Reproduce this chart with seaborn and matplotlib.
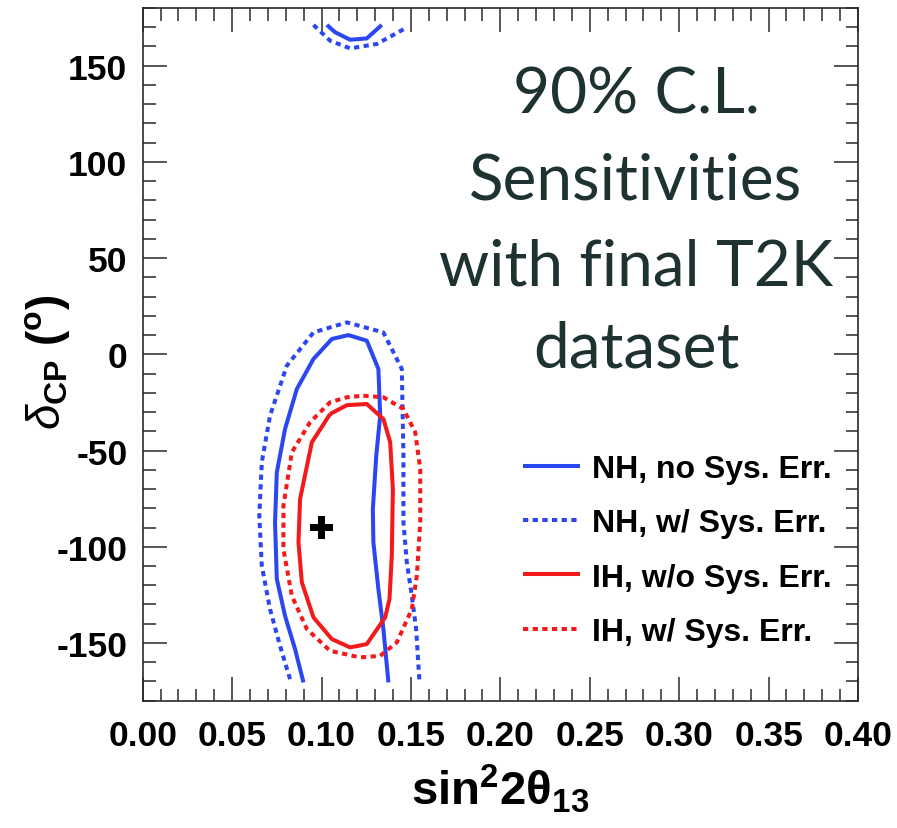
import matplotlib
matplotlib.use("Agg")
import matplotlib.pyplot as plt
import seaborn as sns
import pandas as pd
import numpy as np
from matplotlib.lines import Line2D

# ---------------- data ----------------
# NH, no Sys. Err. (main open contour, bottom-left -> top -> bottom-right)
nh_a_x = [0.0899, 0.0852, 0.0796, 0.0750, 0.0740, 0.0750, 0.0796, 0.0862, 0.0955, 0.1058,
          0.1151, 0.1253, 0.1318, 0.1328, 0.1306, 0.1287, 0.1290, 0.1318, 0.1346, 0.1374]
nh_a_y = [-170.5, -153.2, -135.9, -116.8, -87.3, -61.3, -38.8, -18.0, -2.4, 8.0,
          10.0, 7.1, -7.6, -31.9, -52.7, -80.4, -97.7, -122.0, -142.8, -170.5]
# NH, no Sys. Err. (piece near the top edge)
nh_a_top_x = [0.1030, 0.1076, 0.1160, 0.1253, 0.1337]
nh_a_top_y = [171.2, 167.4, 163.5, 164.2, 171.2]

# NH, w/ Sys. Err.
nh_b_x = [0.0824, 0.0768, 0.0712, 0.0666, 0.0652, 0.0666, 0.0712, 0.0806, 0.0955, 0.1142,
          0.1346, 0.1449, 0.1458, 0.1458, 0.1477, 0.1505, 0.1529, 0.1548]
nh_b_y = [-168.8, -151.5, -132.4, -109.9, -83.9, -56.1, -31.9, -5.9, 11.4, 16.6,
          11.4, -7.6, -52.7, -87.3, -108.1, -125.5, -142.8, -170.5]
nh_b_top_x = [0.0955, 0.1048, 0.1160, 0.1309, 0.1468]
nh_b_top_y = [171.2, 163.0, 159.0, 161.3, 169.4]

# IH, w/o Sys. Err. (closed contour)
ih_a_x = [0.1048, 0.1142, 0.1253, 0.1346, 0.1384, 0.1399, 0.1393, 0.1380, 0.1356, 0.1253,
          0.1160, 0.1058, 0.0955, 0.0890, 0.0871, 0.0880, 0.0946]
ih_a_y = [-31.0, -26.4, -25.8, -33.6, -45.7, -70.0, -104.7, -127.2, -136.7, -150.6,
          -152.3, -148.0, -136.7, -118.5, -97.7, -75.2, -45.7]

# IH, w/ Sys. Err. (closed contour)
ih_b_x = [0.1234, 0.1346, 0.1458, 0.1524, 0.1552, 0.1552, 0.1533, 0.1505, 0.1421, 0.1328,
          0.1216, 0.1048, 0.0918, 0.0834, 0.0787, 0.0787, 0.0834, 0.0936, 0.1048, 0.1142]
ih_b_y = [-21.5, -22.3, -28.4, -40.5, -59.6, -87.3, -115.1, -132.4, -149.7, -156.7,
          -157.5, -154.1, -142.8, -125.5, -101.2, -78.7, -50.9, -35.3, -24.9, -22.3]

best_x = [0.100]
best_y = [-90.0]

labels = ["NH, no Sys. Err.", "NH, w/ Sys. Err.", "IH, w/o Sys. Err.", "IH, w/ Sys. Err."]
title_lines = ["90% C.L.", "Sensitivities", "with final T2K", "dataset"]
x_ticks = [0.00, 0.05, 0.10, 0.15, 0.20, 0.25, 0.30, 0.35, 0.40]
y_ticks = [-150, -100, -50, 0, 50, 100, 150]

# ---------------- style ----------------
sns.set_style("ticks")
plt.rcParams["font.family"] = ["Liberation Sans", "DejaVu Sans"]
plt.rcParams["mathtext.fontset"] = "custom"
plt.rcParams["mathtext.rm"] = "Liberation Sans"
plt.rcParams["mathtext.bf"] = "Liberation Sans:bold"
plt.rcParams["mathtext.it"] = "Liberation Sans:italic"
plt.rcParams["text.color"] = "black"
plt.rcParams["axes.labelcolor"] = "black"
plt.rcParams["xtick.labelcolor"] = "black"
plt.rcParams["ytick.labelcolor"] = "black"

BLUE = "#2b47f0"
RED = "#f21a1a"
LW = 2.9
DOT = (0, (1.3, 1.1))

W, H = 897, 829
fig = plt.figure(figsize=(W / 100, H / 100), dpi=100)
x0, x1, y0, y1 = 142.7, 858.0, 9.0, 701.7
ax = fig.add_axes([x0 / W, 1 - y1 / H, (x1 - x0) / W, (y1 - y0) / H])


def draw(xs, ys, color, ls, close=False):
    xs = list(xs)
    ys = list(ys)
    if close:
        xs = xs + xs[:1]
        ys = ys + ys[:1]
    df = pd.DataFrame({"x": xs, "y": ys})
    sns.lineplot(data=df, x="x", y="y", sort=False, estimator=None, ax=ax,
                 color=color, linewidth=LW, linestyle=ls,
                 dash_capstyle="butt", solid_capstyle="butt", legend=False)


draw(nh_a_x, nh_a_y, BLUE, "-")
draw(nh_a_top_x, nh_a_top_y, BLUE, "-")
draw(nh_b_x, nh_b_y, BLUE, DOT)
draw(nh_b_top_x, nh_b_top_y, BLUE, DOT)
draw(ih_a_x, ih_a_y, RED, "-", close=True)
draw(ih_b_x, ih_b_y, RED, DOT, close=True)

sns.scatterplot(x=best_x, y=best_y, marker="P", s=260, color="black",
                edgecolor="none", ax=ax, legend=False, zorder=5)

ax.set_xlim(0.0, 0.4)
ax.set_ylim(-180, 180)
ax.set_xticks(x_ticks)
ax.set_xticklabels([f"{v:.2f}" for v in x_ticks])
ax.set_yticks(y_ticks)
ax.set_yticklabels([str(v) for v in y_ticks])
ax.set_xticks(np.arange(0, 0.4001, 0.01), minor=True)
ax.set_yticks(np.arange(-180, 180.1, 10), minor=True)

spine_c = "#2a2a2a"
for s in ax.spines.values():
    s.set_visible(True)
    s.set_linewidth(1.2)
    s.set_color(spine_c)
ax.tick_params(which="both", direction="in", top=True, right=True, color=spine_c, width=1.1)
ax.tick_params(which="major", length=17)
ax.tick_params(which="minor", length=9)
ax.tick_params(axis="x", which="major", pad=13, labelsize=25.5, labelcolor="black")
ax.tick_params(axis="y", which="major", pad=11, labelsize=25.5, labelcolor="black")
for t in ax.get_xticklabels() + ax.get_yticklabels():
    t.set_fontweight("bold")

ax.set_xlabel(r"$\mathbf{sin^{2}2\theta_{13}}$", fontsize=34, color="black")
ax.xaxis.set_label_coords(0.5, (701.7 - 762) / (701.7 - 9.0))
ax.set_ylabel(r"$\delta_{\mathbf{CP}}\ \mathbf{(^{o})}$", fontsize=33, color="black")
ax.yaxis.set_label_coords((72 - 142.7) / (858.0 - 142.7), (701.7 - 362) / (701.7 - 9.0))

# legend
handles = [Line2D([], [], color=BLUE, lw=LW, ls="-", solid_capstyle="butt"),
           Line2D([], [], color=BLUE, lw=LW, ls=DOT, dash_capstyle="butt"),
           Line2D([], [], color=RED, lw=LW, ls="-", solid_capstyle="butt"),
           Line2D([], [], color=RED, lw=LW, ls=DOT, dash_capstyle="butt")]
leg = ax.legend(handles, labels, loc="upper left",
                bbox_to_anchor=(523 / W, 1 - 455 / H), bbox_transform=fig.transFigure,
                frameon=False, fontsize=23, handlelength=1.78, handletextpad=0.38,
                labelspacing=0.76, borderpad=0, borderaxespad=0)
for t in leg.get_texts():
    t.set_fontweight("bold")
    t.set_color("black")

# title block
line_y = [95, 182, 267, 350]
for txt, yy in zip(title_lines, line_y):
    fig.text(636 / W, 1 - yy / H, txt, ha="center", va="center",
             fontsize=46, color="#1f3232", family=["Lato", "DejaVu Sans"])

fig.savefig("out.png", dpi=100)
